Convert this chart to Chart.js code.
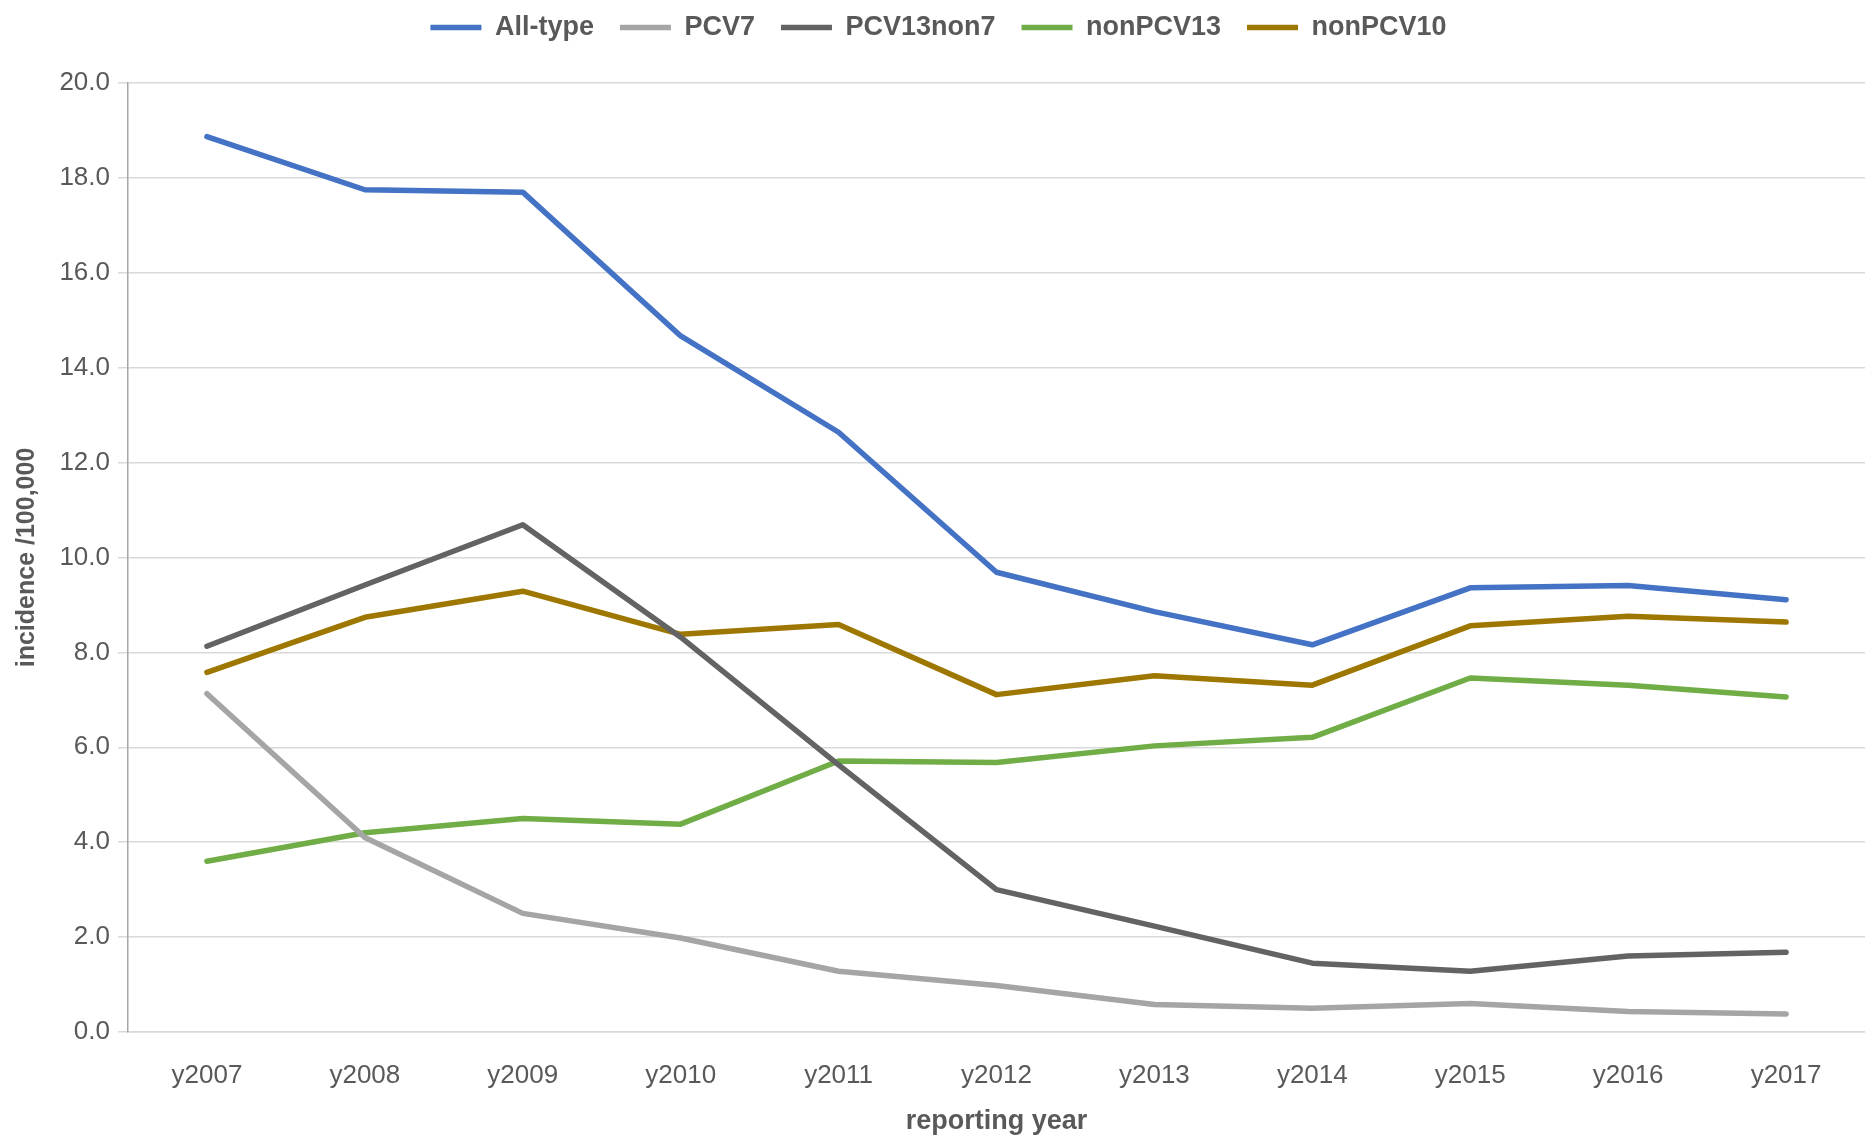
<!DOCTYPE html>
<html>
<head>
<meta charset="utf-8">
<script src="https://cdn.jsdelivr.net/npm/chart.js@4/dist/chart.umd.min.js"></script>
<style>
  html, body { margin: 0; padding: 0; background: #fff; }
  #wrap { width: 1865px; height: 1138px; }
</style>
</head>
<body>
<div id="wrap"><canvas id="chart"></canvas></div>
<script>
const years = ["y2007", "y2008", "y2009", "y2010", "y2011", "y2012", "y2013", "y2014", "y2015", "y2016", "y2017"];

const allType   = [18.87, 17.75, 17.70, 14.67, 12.64, 9.69, 8.86, 8.16, 9.36, 9.41, 9.11];
const pcv7      = [7.13, 4.10, 2.50, 1.98, 1.28, 0.98, 0.58, 0.50, 0.60, 0.43, 0.38];
const pcv13non7 = [8.13, 9.42, 10.69, 8.32, 5.63, 3.00, 2.23, 1.45, 1.28, 1.60, 1.68];
const nonPcv13  = [3.60, 4.20, 4.50, 4.38, 5.71, 5.68, 6.03, 6.21, 7.46, 7.31, 7.06];
const nonPcv10  = [7.58, 8.74, 9.29, 8.38, 8.59, 7.11, 7.51, 7.31, 8.56, 8.76, 8.64];

const textColor = "#595959";
const fontFamily = "'Liberation Sans', Arial, sans-serif";

function series(label, data, color) {
    return {
        label: label,
        data: data,
        borderColor: color,
        backgroundColor: color,
        borderWidth: 5.5,
        pointRadius: 0,
        tension: 0,
        borderCapStyle: "round",
        borderJoinStyle: "round"
    };
}

// push the plot area down below the legend
const legendGap = {
    id: "legendGap",
    beforeInit(chart) {
        const fit = chart.legend.fit;
        chart.legend.fit = function () {
            fit.bind(chart.legend)();
            this.height += 32;
        };
    }
};

const config = {
    type: "line",
    data: {
        labels: years,
        datasets: [
            series("All-type", allType, "#4472C4"),
            series("PCV7", pcv7, "#A5A5A5"),
            series("PCV13non7", pcv13non7, "#636363"),
            series("nonPCV13", nonPcv13, "#70AD47"),
            series("nonPCV10", nonPcv10, "#9E7700")
        ]
    },
    options: {
        responsive: true,
        maintainAspectRatio: false,
        animation: false,
        layout: { padding: { left: 12, right: 0, top: -12, bottom: 0 } },
        plugins: {
            legend: {
                position: "top",
                labels: {
                    usePointStyle: true,
                    pointStyle: "line",
                    pointStyleWidth: 51,
                    boxHeight: 26,
                    padding: 26,
                    color: textColor,
                    font: { family: fontFamily, size: 27, weight: "bold" }
                }
            },
            tooltip: { enabled: false }
        },
        scales: {
            x: {
                offset: true,
                grid: { display: false, drawTicks: false },
                border: { display: true, color: "#D9D9D9", width: 1.5 },
                ticks: {
                    color: textColor,
                    padding: 28,
                    font: { family: fontFamily, size: 26 }
                },
                title: {
                    display: true,
                    text: "reporting year",
                    color: textColor,
                    padding: { top: 6, bottom: 0 },
                    font: { family: fontFamily, size: 27, weight: "bold" }
                },
                afterFit: s => { s.height = 106; }
            },
            y: {
                min: 0,
                max: 20,
                grid: { color: "#D9D9D9", lineWidth: 1.5, tickLength: 10 },
                border: { display: true, color: "#A6A6A6", width: 1.5 },
                ticks: {
                    stepSize: 2,
                    color: textColor,
                    padding: 8,
                    font: { family: fontFamily, size: 26 },
                    callback: v => Number(v).toFixed(1)
                },
                title: {
                    display: true,
                    text: "incidence /100,000",
                    color: textColor,
                    padding: { top: 0, bottom: 6 },
                    font: { family: fontFamily, size: 25, weight: "bold" }
                },
                afterFit: s => { s.width = 116; }
            }
        }
    },
    plugins: [legendGap]
};

new Chart(document.getElementById("chart"), config);
</script>
</body>
</html>
